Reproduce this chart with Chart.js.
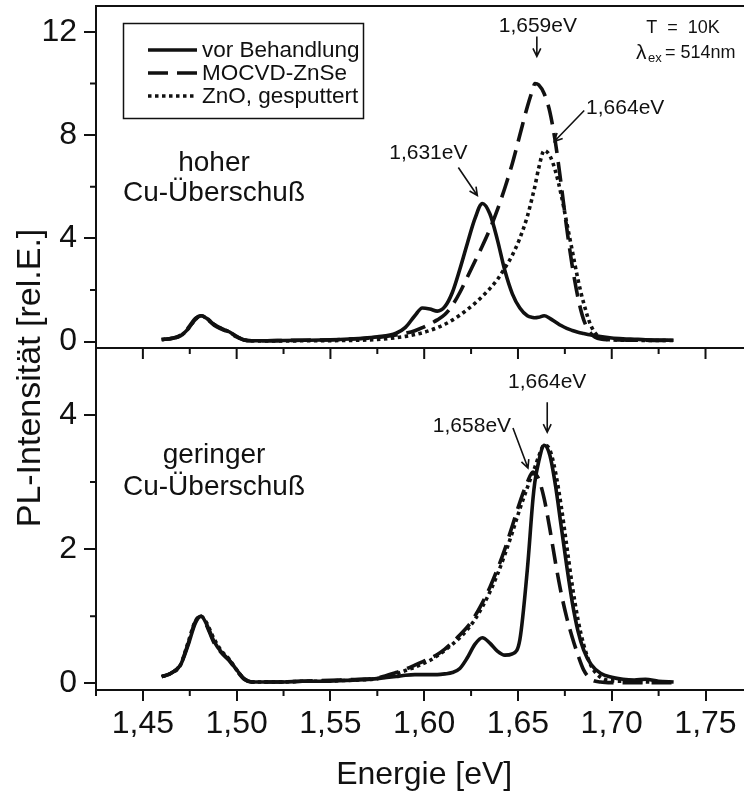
<!DOCTYPE html>
<html lang="de">
<head>
<meta charset="utf-8">
<title>PL-Spektren</title>
<script src="https://cdn.jsdelivr.net/npm/chart.js@4.4.1/dist/chart.umd.min.js"></script>
<style>
  html, body { margin: 0; padding: 0; background: #fff; overflow: hidden; }
  #wrap { width: 744px; height: 797px; overflow: hidden; }
</style>
</head>
<body>
<div id="wrap"><canvas id="pl" width="770" height="797"></canvas></div>
<script>
// Energieachse (eV), gemeinsam fuer alle Spektren
const energie = [
  1.460, 1.465, 1.470, 1.474, 1.478, 1.481, 1.484, 1.488, 1.492, 1.496,
  1.500, 1.504, 1.508, 1.515, 1.525, 1.535, 1.545, 1.555, 1.565, 1.575,
  1.585, 1.590, 1.595, 1.599, 1.603, 1.607, 1.611, 1.615, 1.619, 1.623,
  1.627, 1.631, 1.635, 1.639, 1.643, 1.647, 1.651, 1.655, 1.658, 1.659,
  1.661, 1.664, 1.667, 1.670, 1.673, 1.676, 1.679, 1.682, 1.685, 1.689,
  1.694, 1.700, 1.706, 1.712, 1.718, 1.725, 1.733
];

// hoher Cu-Ueberschuss
const hochVor = [
  0.08, 0.12, 0.22, 0.48, 0.86, 1.00, 0.90, 0.66, 0.50, 0.38,
  0.20, 0.06, 0.03, 0.03, 0.04, 0.05, 0.06, 0.08, 0.12, 0.18,
  0.32, 0.55, 1.00, 1.30, 1.26, 1.18, 1.35, 1.90, 2.80, 3.80,
  4.75, 5.35, 4.95, 3.95, 2.75, 1.85, 1.30, 1.00, 0.93, 0.92,
  0.94, 1.00, 0.90, 0.76, 0.62, 0.51, 0.43, 0.36, 0.31, 0.25,
  0.19, 0.14, 0.11, 0.09, 0.07, 0.06, 0.05
];
const hochZnSe = [
  0.08, 0.12, 0.24, 0.52, 0.90, 1.00, 0.88, 0.63, 0.48, 0.35,
  0.18, 0.06, 0.03, 0.03, 0.04, 0.05, 0.06, 0.08, 0.11, 0.16,
  0.25, 0.32, 0.42, 0.54, 0.68, 0.84, 1.05, 1.40, 1.90, 2.50,
  3.10, 3.70, 4.35, 5.10, 5.95, 6.90, 8.00, 9.10, 9.80, 10.00,
  9.95, 9.60, 8.90, 7.70, 6.10, 4.40, 2.90, 1.70, 0.85, 0.30,
  0.10, 0.07, 0.06, 0.05, 0.05, 0.04, 0.04
];
const hochZnO = [
  0.08, 0.12, 0.22, 0.48, 0.86, 1.00, 0.90, 0.66, 0.50, 0.37,
  0.19, 0.06, 0.03, 0.02, 0.02, 0.03, 0.03, 0.04, 0.05, 0.08,
  0.15, 0.20, 0.27, 0.34, 0.43, 0.54, 0.67, 0.83, 1.02, 1.24,
  1.48, 1.75, 2.05, 2.40, 2.85, 3.35, 4.00, 4.85, 5.70, 6.00,
  6.70, 7.40, 7.20, 6.60, 5.70, 4.60, 3.50, 2.40, 1.50, 0.60,
  0.15, 0.07, 0.05, 0.05, 0.04, 0.04, 0.04
];

// geringer Cu-Ueberschuss
const geringVor = [
  0.10, 0.15, 0.27, 0.56, 0.90, 1.00, 0.88, 0.62, 0.46, 0.35,
  0.20, 0.07, 0.02, 0.02, 0.02, 0.03, 0.03, 0.04, 0.05, 0.07,
  0.10, 0.12, 0.13, 0.13, 0.13, 0.13, 0.14, 0.16, 0.22, 0.38,
  0.58, 0.68, 0.60, 0.48, 0.42, 0.44, 0.65, 1.70, 2.75, 3.00,
  3.30, 3.55, 3.40, 2.95, 2.35, 1.75, 1.20, 0.78, 0.50, 0.28,
  0.15, 0.09, 0.06, 0.05, 0.06, 0.03, 0.02
];
const geringZnSe = [
  0.10, 0.15, 0.28, 0.58, 0.92, 1.00, 0.86, 0.60, 0.45, 0.34,
  0.19, 0.06, 0.02, 0.02, 0.02, 0.03, 0.04, 0.05, 0.06, 0.08,
  0.16, 0.21, 0.27, 0.32, 0.37, 0.43, 0.51, 0.61, 0.72, 0.84,
  1.00, 1.20, 1.43, 1.70, 2.00, 2.35, 2.70, 3.00, 3.15, 3.13,
  3.05, 2.75, 2.30, 1.80, 1.35, 0.98, 0.68, 0.42, 0.20, 0.06,
  0.02, 0.01, 0.01, 0.01, 0.01, 0.01, 0.01
];
const geringZnO = [
  0.10, 0.15, 0.27, 0.60, 0.93, 1.00, 0.90, 0.66, 0.48, 0.36,
  0.20, 0.07, 0.02, 0.02, 0.02, 0.03, 0.03, 0.04, 0.05, 0.07,
  0.14, 0.19, 0.24, 0.29, 0.34, 0.41, 0.49, 0.58, 0.68, 0.80,
  0.95, 1.14, 1.36, 1.62, 1.92, 2.25, 2.60, 2.92, 3.15, 3.22,
  3.38, 3.55, 3.48, 3.15, 2.65, 2.05, 1.45, 0.95, 0.58, 0.26,
  0.09, 0.04, 0.03, 0.02, 0.02, 0.02, 0.02
];

const serien = ['vor Behandlung', 'MOCVD-ZnSe', 'ZnO, gesputtert'];

// Achsenteilung
const xMajor = [1.45, 1.50, 1.55, 1.60, 1.65, 1.70, 1.75];
const xMinor = [1.425, 1.475, 1.525, 1.575, 1.625, 1.675, 1.725];
const yTopMajor = [0, 4, 8, 12];
const yTopMinor = [2, 6, 10];
const yBotMajor = [0, 2, 4];
const yBotMinor = [1, 3];

const FONT = '"Liberation Sans", Arial, Helvetica, sans-serif';

// Linienarten: durchgezogen, gestrichelt, gepunktet
const striche = [[], [20, 9], [3.5, 3.5]];

// Pfeile an den Maxima (Versatz in px relativ zum Maximum)
const peakLabels = [
  { achse: 'yTop', werte: hochVor, text: '1,631eV', spitze: [-5, -8], ende: [-24, -36], schrift: [-54, -50] },
  { achse: 'yTop', werte: hochZnSe, text: '1,659eV', spitze: [2, -27], ende: [2, -47], schrift: [3, -57] },
  { achse: 'yTop', werte: hochZnO, text: '1,664eV', spitze: [10, -9], ende: [40, -40], schrift: [81, -42] },
  { achse: 'yBot', werte: geringVor, text: '1,664eV', spitze: [3, -13], ende: [3, -43], schrift: [3, -63] },
  { achse: 'yBot', werte: geringZnSe, text: '1,658eV', spitze: [-5, -4], ende: [-20, -44], schrift: [-61, -46] }
];

function punkte(werte) {
  return energie.map((e, i) => ({ x: e, y: werte[i] }));
}

const datasets = [];
[[hochVor, hochZnSe, hochZnO, 'yTop'], [geringVor, geringZnSe, geringZnO, 'yBot']].forEach(panel => {
  for (let i = 0; i < 3; i++) {
    datasets.push({
      label: serien[i],
      data: punkte(panel[i]),
      yAxisID: panel[3],
      borderColor: '#111',
      borderWidth: 3.6,
      borderDash: striche[i],
      borderCapStyle: 'butt',
      pointRadius: 0,
      fill: false,
      cubicInterpolationMode: 'monotone'
    });
  }
});

function pfeil(ctx, x0, y0, x1, y1) {
  const w = Math.atan2(y1 - y0, x1 - x0), s = 9;
  ctx.beginPath();
  ctx.moveTo(x0, y0);
  ctx.lineTo(x1, y1);
  ctx.moveTo(x1 - s * Math.cos(w - 0.45), y1 - s * Math.sin(w - 0.45));
  ctx.lineTo(x1, y1);
  ctx.lineTo(x1 - s * Math.cos(w + 0.45), y1 - s * Math.sin(w + 0.45));
  ctx.stroke();
}

// Rahmen, Nebenstriche, Legende und Beschriftungen
const rahmen = {
  id: 'rahmen',
  afterDraw(chart) {
    const { ctx, chartArea: a, scales } = chart;
    const x = scales.x, yT = scales.yTop, yB = scales.yBot;
    const trenn = yT.bottom;
    ctx.save();
    ctx.strokeStyle = '#111';
    ctx.fillStyle = '#111';
    ctx.lineWidth = 2;

    ctx.beginPath();
    ctx.moveTo(a.left, a.top); ctx.lineTo(chart.width, a.top);
    ctx.moveTo(a.left, trenn); ctx.lineTo(chart.width, trenn);
    ctx.moveTo(a.right, a.top); ctx.lineTo(a.right, a.bottom);
    xMajor.forEach(e => {
      const p = x.getPixelForValue(e);
      ctx.moveTo(p, trenn); ctx.lineTo(p, trenn + 11);
    });
    xMinor.forEach(e => {
      const p = x.getPixelForValue(e);
      ctx.moveTo(p, trenn); ctx.lineTo(p, trenn + 6);
      ctx.moveTo(p, a.bottom); ctx.lineTo(p, a.bottom + 6);
    });
    yTopMinor.forEach(v => {
      const p = yT.getPixelForValue(v);
      ctx.moveTo(a.left, p); ctx.lineTo(a.left - 6, p);
    });
    yBotMinor.forEach(v => {
      const p = yB.getPixelForValue(v);
      ctx.moveTo(a.left, p); ctx.lineTo(a.left - 6, p);
    });
    ctx.stroke();

    // Legende
    ctx.lineWidth = 1.5;
    ctx.strokeRect(123.5, 23.5, 240, 95);
    ctx.font = '22.5px ' + FONT;
    ctx.textBaseline = 'middle';
    ctx.textAlign = 'left';
    serien.forEach((name, i) => {
      const y = 50 + i * 23;
      ctx.lineWidth = 3.6;
      ctx.setLineDash(striche[i]);
      ctx.beginPath();
      ctx.moveTo(148, y); ctx.lineTo(197, y);
      ctx.stroke();
      ctx.setLineDash([]);
      ctx.fillText(name, 202, y + 1);
    });

    // Probenbezeichnung
    ctx.font = '28px ' + FONT;
    ctx.textAlign = 'center';
    ctx.fillText('hoher', 214, 163);
    ctx.fillText('Cu-Überschuß', 214, 193);
    ctx.fillText('geringer', 214, 455);
    ctx.fillText('Cu-Überschuß', 214, 487);

    // Messbedingungen
    ctx.font = '18px ' + FONT;
    ctx.fillText('T  =  10K', 683, 28);
    ctx.textAlign = 'left';
    ctx.font = '21px ' + FONT;
    ctx.fillText('λ', 636, 53);
    ctx.font = '13px ' + FONT;
    ctx.fillText('ex', 648, 58);
    ctx.font = '18px ' + FONT;
    ctx.fillText('= 514nm', 665, 53);

    // Maxima mit Pfeilen
    ctx.lineWidth = 1.6;
    ctx.font = '21px ' + FONT;
    ctx.textAlign = 'center';
    peakLabels.forEach(p => {
      const e = parseFloat(p.text.replace(',', '.'));
      const v = p.werte[energie.indexOf(e)];
      const px = x.getPixelForValue(e), py = scales[p.achse].getPixelForValue(v);
      pfeil(ctx, px + p.ende[0], py + p.ende[1], px + p.spitze[0], py + p.spitze[1]);
      ctx.fillText(p.text, px + p.schrift[0], py + p.schrift[1]);
    });

    // y-Achsentitel
    ctx.translate(31, 378);
    ctx.rotate(-Math.PI / 2);
    ctx.font = '34px ' + FONT;
    ctx.fillText('PL-Intensität [rel.E.]', 0, 0);
    ctx.restore();
  }
};

function yAchse(min, max, ticks) {
  return {
    type: 'linear',
    position: 'left',
    stack: 'panels',
    stackWeight: 1,
    min: min,
    max: max,
    afterBuildTicks: s => { s.ticks = ticks.map(v => ({ value: v })); },
    afterFit: s => { s.width = 96; s.paddingTop = 0; s.paddingBottom = 0; },
    ticks: { font: { family: FONT, size: 32 }, color: '#111', padding: 7 },
    grid: { drawOnChartArea: false, tickLength: 12, color: '#111', lineWidth: 2 },
    border: { color: '#111', width: 2 }
  };
}

new Chart(document.getElementById('pl'), {
  type: 'line',
  data: { datasets: datasets },
  options: {
    responsive: false,
    animation: false,
    layout: { padding: { top: 6, right: 17.6, left: 0, bottom: 0 } },
    plugins: { legend: { display: false }, tooltip: { enabled: false } },
    scales: {
      x: {
        type: 'linear',
        min: 1.425,
        max: 1.775,
        afterBuildTicks: s => { s.ticks = xMajor.map(v => ({ value: v })); },
        afterFit: s => { s.height = 107; },
        ticks: {
          font: { family: FONT, size: 32 },
          color: '#111',
          padding: 4,
          maxRotation: 0,
          callback: v => v.toFixed(2).replace('.', ',')
        },
        grid: { drawOnChartArea: false, tickLength: 11, color: '#111', lineWidth: 2 },
        border: { color: '#111', width: 2 },
        title: {
          display: true,
          text: 'Energie [eV]',
          font: { family: FONT, size: 32 },
          color: '#111',
          padding: { top: 0, bottom: 3 }
        }
      },
      yBot: yAchse(-0.1, 5.0, yBotMajor),
      yTop: yAchse(-0.25, 13, yTopMajor)
    }
  },
  plugins: [rahmen]
});
</script>
</body>
</html>
